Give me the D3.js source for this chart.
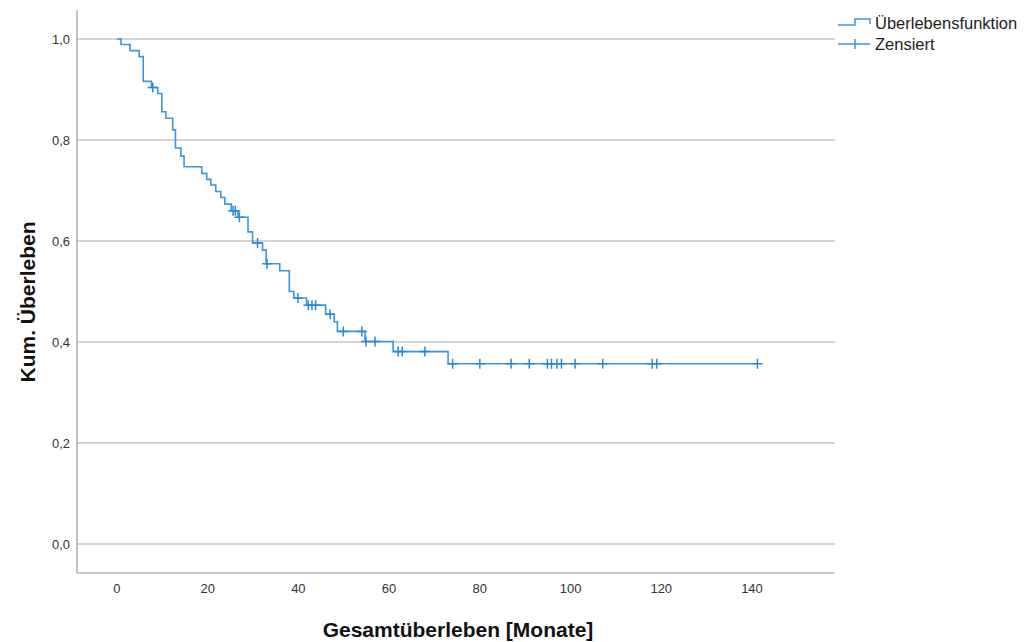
<!DOCTYPE html>
<html>
<head>
<meta charset="utf-8">
<script src="https://cdn.jsdelivr.net/npm/d3@7"></script>
<style>
  body { margin: 0; background: #fff; }
  svg { display: block; font-family: "Liberation Sans", Arial, sans-serif; }
</style>
</head>
<body>
<div id="chart"></div>
<script>
// Kaplan-Meier step points: time (months) and survival after the drop
const stepTimes = [0, 0.9, 2.9, 4.9, 5.8, 7.6, 9.0, 9.9, 10.8, 12.3, 12.9, 14.1, 14.8,
  18.7, 19.8, 20.7, 21.8, 22.9, 23.8, 25.2, 26.7, 28.9, 29.9, 32.1, 32.9, 35.9,
  38.0, 39.0, 41.8, 46.0, 47.9, 48.6, 54.7, 60.9, 73.0]
const stepSurv = [1.0, 0.989, 0.977, 0.965, 0.916, 0.904, 0.892, 0.856, 0.843, 0.820, 0.784, 0.768, 0.747,
  0.734, 0.722, 0.711, 0.698, 0.686, 0.673, 0.660, 0.647, 0.618, 0.596, 0.582, 0.555, 0.541,
  0.500, 0.487, 0.473, 0.455, 0.440, 0.421, 0.401, 0.381, 0.357]
const lastTime = 141.2

// censored observations (months)
const censorTimes = [7.9, 25.6, 26.1, 27.0, 31.0, 33.1, 39.9, 42.2, 43.0, 43.8, 47.0,
  49.9, 54.0, 54.9, 56.9, 62.0, 62.9, 67.9, 74.0, 80.0, 86.9, 90.9, 94.9, 95.8,
  97.0, 98.0, 101.0, 107.1, 118.0, 119.0, 141.2]

const xTicks = [0, 20, 40, 60, 80, 100, 120, 140]
const yTicks = [0, 0.2, 0.4, 0.6, 0.8, 1.0]

const width = 1025
const height = 642
const plotLeft = 77, plotRight = 835, plotTop = 10, plotBottom = 573
const lineColor = '#3a97dd'

const x = d3.scaleLinear().domain([-8.8, 158.3]).range([plotLeft, plotRight])
const y = d3.scaleLinear().domain([-0.0574, 1.0574]).range([plotBottom, plotTop])

const svg = d3.select('#chart').append('svg')
  .attr('width', width)
  .attr('height', height)

// gridlines
svg.append('g')
  .selectAll('line')
  .data(yTicks)
  .join('line')
  .attr('x1', plotLeft)
  .attr('x2', plotRight)
  .attr('y1', d => y(d))
  .attr('y2', d => y(d))
  .attr('stroke', '#c6c6c6')
  .attr('stroke-width', 1.3)

// axis frame (left + bottom)
svg.append('path')
  .attr('d', `M${plotLeft},${plotTop}V${plotBottom}H${plotRight}`)
  .attr('fill', 'none')
  .attr('stroke', '#9a9a9a')
  .attr('stroke-width', 1.2)

const fmt = d => d3.format('.1f')(d).replace('.', ',')

// y tick labels
svg.append('g')
  .selectAll('text')
  .data(yTicks)
  .join('text')
  .attr('x', 70)
  .attr('y', d => y(d))
  .attr('dy', '0.35em')
  .attr('text-anchor', 'end')
  .attr('font-size', '13px')
  .attr('fill', '#333')
  .text(fmt)

// x tick labels
svg.append('g')
  .selectAll('text')
  .data(xTicks)
  .join('text')
  .attr('x', d => x(d))
  .attr('y', 588)
  .attr('dy', '0.35em')
  .attr('text-anchor', 'middle')
  .attr('font-size', '13px')
  .attr('fill', '#333')
  .text(d => d)

// axis titles
svg.append('text')
  .attr('x', 458)
  .attr('y', 637)
  .attr('text-anchor', 'middle')
  .attr('font-size', '21px')
  .attr('font-weight', 'bold')
  .attr('fill', '#111')
  .text('Gesamtüberleben [Monate]')

svg.append('text')
  .attr('transform', 'translate(35,302) rotate(-90)')
  .attr('text-anchor', 'middle')
  .attr('font-size', '21px')
  .attr('font-weight', 'bold')
  .attr('fill', '#111')
  .text('Kum. Überleben')

// survival step line
const stepData = stepTimes.map((t, i) => [t, stepSurv[i]])
stepData.push([lastTime, stepSurv[stepSurv.length - 1]])

const line = d3.line()
  .x(d => x(d[0]))
  .y(d => y(d[1]))
  .curve(d3.curveStepAfter)

svg.append('path')
  .datum(stepData)
  .attr('fill', 'none')
  .attr('stroke', lineColor)
  .attr('stroke-width', 1.6)
  .attr('d', line)

// survival at a given time (value after last drop at or before t)
const survAt = t => {
  const i = d3.bisectRight(stepTimes, t) - 1
  return stepSurv[Math.max(0, i)]
}

// censor marks
const cross = 5
const censorG = svg.append('g')
  .selectAll('g')
  .data(censorTimes)
  .join('g')
  .attr('transform', d => `translate(${x(d)},${y(survAt(d))})`)

censorG.append('path')
  .attr('d', `M${-cross},0H${cross}M0,${-cross}V${cross}`)
  .attr('stroke', '#2a89d6')
  .attr('stroke-width', 1.5)

// legend
const legend = svg.append('g')
legend.append('path')
  .attr('d', 'M838,25H855V19H870V24')
  .attr('fill', 'none')
  .attr('stroke', lineColor)
  .attr('stroke-width', 1.5)
legend.append('text')
  .attr('x', 875)
  .attr('y', 29)
  .attr('font-size', '16.5px')
  .attr('fill', '#222')
  .text('Überlebensfunktion')

legend.append('path')
  .attr('d', 'M838,44H870M855,39V49')
  .attr('fill', 'none')
  .attr('stroke', lineColor)
  .attr('stroke-width', 1.5)
legend.append('text')
  .attr('x', 875)
  .attr('y', 50)
  .attr('font-size', '16.5px')
  .attr('fill', '#222')
  .text('Zensiert')
</script>
</body>
</html>
